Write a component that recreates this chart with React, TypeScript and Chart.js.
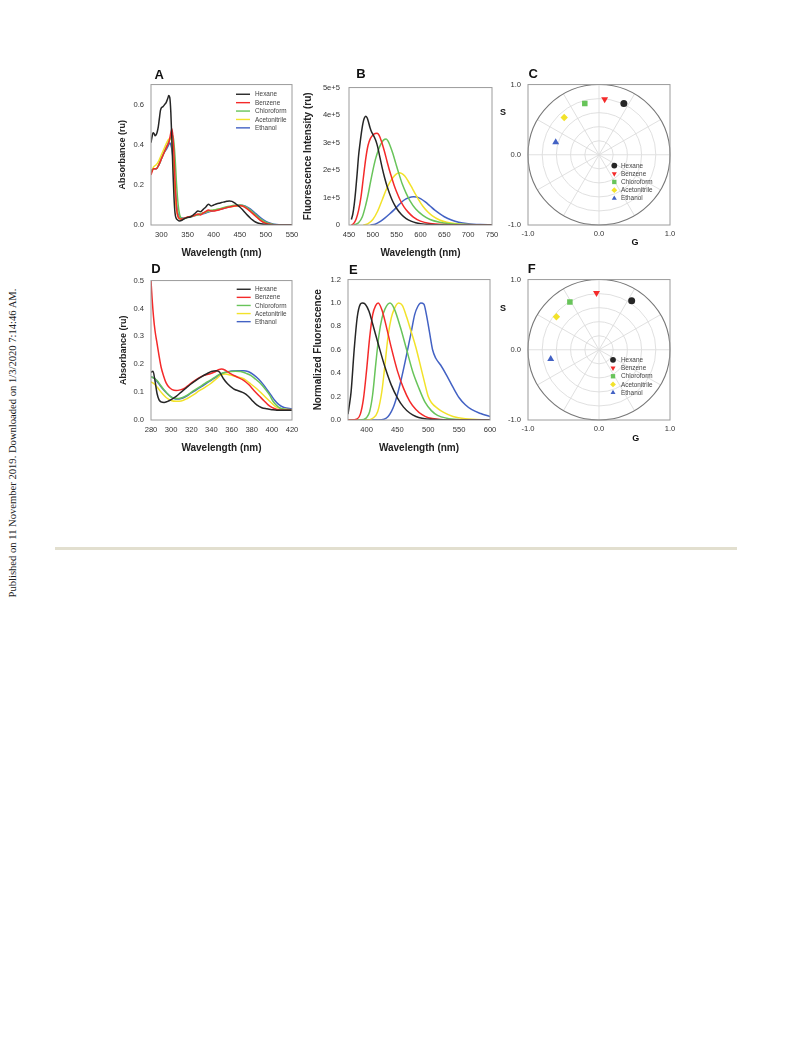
import React, { useEffect, useRef } from "react";
import { Chart, registerables } from "chart.js";
Chart.register(...registerables);

const FONT = "Arial, 'Liberation Sans', Helvetica, sans-serif";
type Pt = [number, number];

const SOLVENTS = ["Hexane", "Benzene", "Chloroform", "Acetonitrile", "Ethanol"];
const COLORS = ["#262626", "#f42a2a", "#68c45a", "#f2e22a", "#4362c4"];
const MARKERS = ["circle", "triDown", "rect", "rectRot", "triUp"];

// ---------- Panel A : absorbance ----------
const A_X_TICKS = [300, 350, 400, 450, 500, 550];
const A_Y_TICKS = [0, 0.2, 0.4, 0.6];
const A_HEXANE: Pt[] = [[280,0.41],[282,0.44],[284,0.46],[286,0.455],[288,0.445],[290,0.45],[292,0.465],[294,0.49],[296,0.53],[298,0.57],[300,0.585],[303,0.59],[306,0.6],[309,0.61],[312,0.63],[314,0.645],[316,0.635],[318,0.56],[320,0.42],[322,0.27],[324,0.14],[326,0.06],[328,0.035],[331,0.025],[335,0.02],[340,0.025],[345,0.033],[350,0.038],[355,0.04],[360,0.048],[365,0.06],[370,0.07],[375,0.066],[380,0.078],[385,0.09],[390,0.104],[395,0.095],[400,0.1],[405,0.105],[410,0.108],[415,0.112],[420,0.115],[425,0.118],[430,0.12],[435,0.118],[440,0.11],[445,0.1],[450,0.09],[455,0.077],[460,0.062],[465,0.048],[470,0.035],[475,0.024],[480,0.015],[490,0.006],[500,0.002],[510,0],[550,0]];
const A_BENZENE: Pt[] = [[280,0.25],[285,0.28],[290,0.28],[295,0.3],[300,0.33],[305,0.36],[310,0.39],[315,0.42],[318,0.46],[320,0.48],[322,0.44],[324,0.35],[326,0.22],[328,0.12],[330,0.06],[333,0.035],[336,0.03],[340,0.03],[345,0.035],[350,0.04],[355,0.042],[360,0.045],[365,0.05],[370,0.055],[375,0.05],[380,0.06],[385,0.068],[390,0.075],[395,0.07],[400,0.07],[405,0.072],[410,0.075],[420,0.083],[430,0.09],[440,0.095],[450,0.097],[455,0.095],[460,0.088],[470,0.068],[480,0.045],[490,0.022],[500,0.008],[510,0.002],[520,0],[550,0]];
const A_CHLOROFORM: Pt[] = [[280,0.26],[285,0.28],[290,0.28],[295,0.3],[300,0.33],[305,0.36],[310,0.39],[315,0.42],[320,0.45],[323,0.43],[326,0.34],[329,0.2],[332,0.1],[335,0.05],[338,0.035],[342,0.03],[350,0.038],[360,0.045],[370,0.052],[380,0.06],[390,0.07],[400,0.075],[410,0.08],[420,0.087],[430,0.093],[440,0.098],[450,0.1],[460,0.093],[470,0.075],[480,0.052],[490,0.03],[500,0.014],[510,0.005],[520,0.001],[550,0]];
const A_ACETONITRILE: Pt[] = [[280,0.26],[285,0.29],[290,0.3],[295,0.32],[300,0.35],[305,0.38],[310,0.41],[315,0.43],[318,0.43],[321,0.38],[324,0.25],[327,0.12],[330,0.06],[333,0.035],[337,0.03],[345,0.035],[355,0.04],[365,0.048],[375,0.055],[385,0.065],[395,0.072],[405,0.077],[415,0.082],[425,0.088],[435,0.092],[445,0.095],[452,0.096],[460,0.09],[470,0.07],[480,0.046],[490,0.024],[500,0.01],[510,0.003],[520,0],[550,0]];
const A_ETHANOL: Pt[] = [[280,0.27],[285,0.28],[290,0.28],[295,0.3],[300,0.33],[305,0.36],[310,0.38],[314,0.4],[316,0.41],[318,0.4],[321,0.36],[324,0.27],[327,0.16],[330,0.08],[333,0.045],[337,0.035],[345,0.035],[355,0.04],[365,0.047],[375,0.053],[385,0.06],[395,0.068],[405,0.075],[415,0.08],[425,0.087],[435,0.093],[445,0.097],[452,0.098],[460,0.095],[470,0.08],[480,0.058],[490,0.036],[500,0.018],[510,0.008],[520,0.002],[530,0],[550,0]];

// ---------- Panel B : fluorescence intensity ----------
const B_X_TICKS = [450, 500, 550, 600, 650, 700, 750];
const B_Y_TICKS = [0, 1e5, 2e5, 3e5, 4e5, 5e5];
const B_HEXANE: Pt[] = [[455,0.2e5],[458,0.4e5],[461,0.75e5],[464,1.25e5],[467,1.85e5],[470,2.5e5],[473,2.95e5],[476,3.35e5],[479,3.68e5],[482,3.88e5],[485,3.96e5],[488,3.9e5],[491,3.74e5],[494,3.55e5],[497,3.4e5],[500,3.3e5],[503,3.2e5],[506,3.08e5],[510,2.85e5],[515,2.45e5],[520,2.05e5],[525,1.7e5],[530,1.4e5],[535,1.15e5],[540,0.93e5],[545,0.75e5],[550,0.6e5],[560,0.38e5],[570,0.23e5],[580,0.14e5],[590,0.085e5],[600,0.05e5],[620,0.018e5],[650,0.004e5],[700,0],[750,0]];
const B_BENZENE: Pt[] = [[455,0],[460,0.06e5],[465,0.22e5],[470,0.52e5],[475,1.0e5],[480,1.7e5],[485,2.4e5],[490,2.9e5],[495,3.15e5],[500,3.27e5],[505,3.33e5],[509,3.34e5],[513,3.27e5],[518,3.05e5],[524,2.7e5],[530,2.3e5],[535,1.98e5],[540,1.7e5],[545,1.43e5],[550,1.2e5],[557,0.92e5],[565,0.67e5],[575,0.45e5],[585,0.29e5],[600,0.14e5],[620,0.055e5],[650,0.015e5],[700,0.002e5],[750,0]];
const B_CHLOROFORM: Pt[] = [[460,0],[470,0.08e5],[478,0.3e5],[485,0.72e5],[490,1.1e5],[495,1.55e5],[500,1.98e5],[505,2.36e5],[510,2.65e5],[515,2.88e5],[520,3.04e5],[525,3.12e5],[528,3.13e5],[532,3.05e5],[537,2.85e5],[542,2.6e5],[548,2.25e5],[555,1.85e5],[562,1.48e5],[570,1.15e5],[578,0.88e5],[590,0.58e5],[605,0.35e5],[620,0.2e5],[640,0.1e5],[660,0.05e5],[690,0.015e5],[720,0.004e5],[750,0]];
const B_ACETONITRILE: Pt[] = [[480,0],[490,0.05e5],[500,0.2e5],[510,0.5e5],[520,0.93e5],[528,1.28e5],[535,1.53e5],[542,1.72e5],[549,1.85e5],[555,1.9e5],[561,1.87e5],[567,1.78e5],[574,1.6e5],[580,1.42e5],[587,1.2e5],[595,0.95e5],[605,0.68e5],[615,0.48e5],[625,0.33e5],[640,0.18e5],[655,0.1e5],[675,0.045e5],[700,0.015e5],[750,0]];
const B_ETHANOL: Pt[] = [[495,0],[505,0.03e5],[515,0.12e5],[525,0.25e5],[535,0.4e5],[545,0.56e5],[555,0.74e5],[565,0.9e5],[575,0.99e5],[585,1.03e5],[592,1.02e5],[600,0.96e5],[610,0.84e5],[620,0.69e5],[630,0.54e5],[640,0.41e5],[650,0.3e5],[665,0.18e5],[680,0.1e5],[700,0.045e5],[725,0.015e5],[750,0.005e5]];

// ---------- Panel C : phasor (G, S) ----------
const C_G = [0.35, 0.08, -0.2, -0.49, -0.61];
const C_S = [0.73, 0.79, 0.73, 0.53, 0.18];

// ---------- Panel D : absorbance ----------
const D_X_TICKS = [280, 300, 320, 340, 360, 380, 400, 420];
const D_Y_TICKS = [0, 0.1, 0.2, 0.3, 0.4, 0.5];
const D_HEXANE: Pt[] = [[280,0.171],[282,0.175],[284,0.14],[286,0.095],[288,0.072],[290,0.065],[293,0.063],[296,0.066],[300,0.073],[305,0.085],[310,0.1],[315,0.115],[320,0.13],[325,0.143],[330,0.155],[335,0.165],[340,0.174],[345,0.177],[348,0.172],[352,0.148],[356,0.13],[362,0.112],[368,0.103],[372,0.097],[376,0.087],[380,0.072],[385,0.054],[390,0.044],[395,0.04],[400,0.037],[405,0.035],[410,0.035],[420,0.035]];
const D_BENZENE: Pt[] = [[280,0.5],[281,0.44],[282.5,0.37],[284,0.32],[286,0.275],[288,0.23],[290,0.19],[292.5,0.158],[295,0.133],[298,0.117],[301,0.109],[305,0.106],[309,0.108],[313,0.113],[318,0.127],[323,0.14],[328,0.152],[333,0.16],[338,0.165],[343,0.172],[347,0.18],[350,0.183],[354,0.178],[359,0.166],[365,0.155],[372,0.142],[377,0.127],[382,0.107],[387,0.088],[392,0.07],[396,0.055],[400,0.045],[405,0.038],[412,0.035],[420,0.035]];
const D_CHLOROFORM: Pt[] = [[280,0.155],[283,0.15],[286,0.142],[290,0.122],[293,0.108],[296,0.095],[300,0.082],[305,0.077],[310,0.079],[316,0.089],[322,0.104],[328,0.118],[334,0.132],[339,0.143],[344,0.155],[349,0.165],[354,0.171],[359,0.174],[364,0.175],[369,0.174],[374,0.168],[379,0.16],[384,0.146],[389,0.13],[394,0.108],[398,0.088],[401,0.068],[404,0.055],[408,0.043],[413,0.038],[420,0.036]];
const D_ACETONITRILE: Pt[] = [[280,0.137],[283,0.13],[286,0.118],[290,0.1],[293,0.088],[296,0.078],[300,0.07],[305,0.067],[310,0.068],[316,0.077],[322,0.09],[328,0.105],[334,0.118],[339,0.13],[345,0.148],[350,0.163],[354,0.165],[359,0.161],[365,0.155],[372,0.148],[378,0.132],[385,0.112],[390,0.095],[395,0.077],[400,0.06],[404,0.047],[410,0.04],[420,0.037]];
const D_ETHANOL: Pt[] = [[280,0.155],[283,0.15],[286,0.138],[289,0.124],[292,0.11],[296,0.095],[300,0.083],[303,0.077],[306,0.075],[310,0.077],[315,0.085],[320,0.097],[325,0.108],[330,0.12],[335,0.131],[340,0.143],[345,0.155],[350,0.166],[355,0.172],[360,0.176],[366,0.177],[372,0.177],[377,0.173],[382,0.162],[387,0.146],[392,0.125],[396,0.105],[399,0.09],[403,0.07],[407,0.055],[412,0.045],[420,0.04]];

// ---------- Panel E : normalized fluorescence ----------
const E_X_TICKS = [400, 450, 500, 550, 600];
const E_Y_TICKS = [0, 0.2, 0.4, 0.6, 0.8, 1.0, 1.2];
const E_HEXANE: Pt[] = [[370,0.05],[372,0.12],[375,0.24],[380,0.6],[385,0.88],[390,0.99],[393,1.0],[398,0.99],[404,0.93],[410,0.82],[420,0.63],[430,0.45],[440,0.3],[450,0.19],[460,0.11],[470,0.06],[480,0.03],[490,0.015],[510,0.004],[530,0],[600,0]];
const E_BENZENE: Pt[] = [[370,0],[375,0],[385,0.01],[390,0.05],[395,0.18],[400,0.42],[405,0.7],[410,0.9],[415,0.98],[419,1.0],[425,0.94],[432,0.8],[440,0.62],[450,0.42],[460,0.27],[470,0.16],[480,0.09],[490,0.045],[500,0.02],[520,0.005],[540,0],[600,0]];
const E_CHLOROFORM: Pt[] = [[370,0],[390,0],[400,0.02],[405,0.07],[410,0.22],[415,0.48],[420,0.72],[425,0.87],[430,0.95],[438,1.0],[445,0.95],[455,0.79],[465,0.6],[475,0.41],[485,0.27],[495,0.15],[505,0.08],[515,0.04],[530,0.015],[550,0.003],[570,0],[600,0]];
const E_ACETONITRILE: Pt[] = [[370,0],[400,0],[410,0.015],[418,0.07],[425,0.25],[430,0.48],[435,0.72],[440,0.87],[445,0.95],[452,1.0],[458,0.98],[465,0.88],[472,0.76],[480,0.62],[488,0.45],[495,0.3],[500,0.2],[505,0.15],[515,0.1],[525,0.065],[540,0.03],[560,0.01],[600,0]];
const E_ETHANOL: Pt[] = [[370,0],[420,0],[435,0.03],[445,0.13],[455,0.32],[465,0.56],[472,0.74],[478,0.9],[483,0.97],[488,1.0],[493,0.99],[497,0.9],[502,0.75],[507,0.6],[512,0.53],[520,0.47],[530,0.38],[540,0.28],[550,0.19],[560,0.13],[570,0.09],[585,0.055],[600,0.03]];

// ---------- Panel F : phasor (G, S) ----------
const F_G = [0.46, -0.035, -0.41, -0.6, -0.68];
const F_S = [0.7, 0.81, 0.68, 0.47, -0.13];

const POLAR_TICKS = [-1, 0, 1];
const POLAR_RINGS = [0.2, 0.4, 0.6, 0.8];
const POLAR_SPOKES = [0, 30, 60, 90, 120, 150, 180, 210, 240, 270, 300, 330];

// ---------- plugins ----------
const framePlugin = {
  id: "frame",
  afterDraw(chart: any) {
    const { ctx, chartArea: a } = chart;
    ctx.save();
    ctx.strokeStyle = "#9c9c9c";
    ctx.lineWidth = 1;
    ctx.strokeRect(a.left, a.top, a.right - a.left, a.bottom - a.top);
    ctx.restore();
  },
};

function drawMarker(ctx: CanvasRenderingContext2D, style: string, x: number, y: number, r: number, color: string) {
  ctx.fillStyle = color;
  ctx.beginPath();
  if (style === "circle") ctx.arc(x, y, r, 0, Math.PI * 2);
  else if (style === "rect") ctx.rect(x - r * 0.75, y - r * 0.75, r * 1.5, r * 1.5);
  else if (style === "rectRot") {
    ctx.moveTo(x, y - r); ctx.lineTo(x + r, y); ctx.lineTo(x, y + r); ctx.lineTo(x - r, y); ctx.closePath();
  } else {
    const s = style === "triUp" ? 1 : -1;
    ctx.moveTo(x, y - s * r);
    ctx.lineTo(x + r * 0.87, y + s * r * 0.5);
    ctx.lineTo(x - r * 0.87, y + s * r * 0.5);
    ctx.closePath();
  }
  ctx.fill();
}

const lineLegendPlugin = {
  id: "lineLegend",
  afterDraw(chart: any, _args: any, opts: any) {
    const { ctx, chartArea: a } = chart;
    ctx.save();
    ctx.font = `${opts.fontSize}px ${FONT}`;
    ctx.textBaseline = "middle";
    ctx.textAlign = "left";
    chart.data.datasets.forEach((ds: any, i: number) => {
      const y = a.top + opts.dy + i * opts.spacing;
      const x0 = a.left + opts.dx;
      ctx.strokeStyle = ds.borderColor;
      ctx.lineWidth = 1.4;
      ctx.beginPath();
      ctx.moveTo(x0, y);
      ctx.lineTo(x0 + opts.lineLen, y);
      ctx.stroke();
      ctx.fillStyle = "#444";
      ctx.fillText(ds.label, x0 + opts.textDx, y + 0.3);
    });
    ctx.restore();
  },
};

const markerLegendPlugin = {
  id: "markerLegend",
  afterDraw(chart: any, _args: any, opts: any) {
    const { ctx, chartArea: a } = chart;
    ctx.save();
    ctx.font = `${opts.fontSize}px ${FONT}`;
    ctx.textBaseline = "middle";
    ctx.textAlign = "left";
    chart.data.datasets.forEach((ds: any, i: number) => {
      const y = a.top + opts.dy + i * opts.spacing;
      const x0 = a.left + opts.dx;
      drawMarker(ctx, MARKERS[i], x0, y, 2.9, ds.backgroundColor);
      ctx.fillStyle = "#444";
      ctx.fillText(ds.label, x0 + opts.textDx, y + 0.3);
    });
    ctx.restore();
  },
};

const polarGridPlugin = {
  id: "polarGrid",
  beforeDatasetsDraw(chart: any) {
    const { ctx, scales } = chart;
    const xs = scales.x, ys = scales.y;
    const cx = xs.getPixelForValue(0), cy = ys.getPixelForValue(0);
    const rx = xs.getPixelForValue(1) - cx, ry = cy - ys.getPixelForValue(1);
    ctx.save();
    ctx.strokeStyle = "#dcdcdc";
    ctx.lineWidth = 0.9;
    POLAR_RINGS.forEach((r) => {
      ctx.beginPath();
      ctx.ellipse(cx, cy, rx * r, ry * r, 0, 0, Math.PI * 2);
      ctx.stroke();
    });
    POLAR_SPOKES.forEach((deg) => {
      const t = (deg * Math.PI) / 180;
      ctx.beginPath();
      ctx.moveTo(cx, cy);
      ctx.lineTo(cx + rx * Math.cos(t), cy - ry * Math.sin(t));
      ctx.stroke();
    });
    ctx.strokeStyle = "#777";
    ctx.lineWidth = 1.1;
    ctx.beginPath();
    ctx.ellipse(cx, cy, rx, ry, 0, 0, Math.PI * 2);
    ctx.stroke();
    ctx.restore();
  },
};

// ---------- config builders ----------
const tickFont = { size: 7.6, family: FONT };

function axisBase(ticksArr: number[], min: number, max: number, fmt: (v: number) => string, pad: number) {
  return {
    type: "linear",
    min,
    max,
    afterBuildTicks: (s: any) => { s.ticks = ticksArr.map((v) => ({ value: v })); },
    ticks: { font: tickFont, color: "#333", padding: pad, autoSkip: false, maxRotation: 0, callback: (v: any) => fmt(Number(v)) },
    grid: { display: false, drawTicks: false },
    border: { display: false },
  };
}

function lineConfig(o: any) {
  return {
    type: "line",
    data: {
      datasets: o.series.map((s: Pt[], i: number) => ({
        label: SOLVENTS[i],
        data: s.map(([x, y]) => ({ x, y })),
        borderColor: COLORS[i],
        backgroundColor: COLORS[i],
        borderWidth: 1.5,
        pointRadius: 0,
        tension: 0.4,
        cubicInterpolationMode: "monotone",
        fill: false,
      })),
    },
    options: {
      responsive: true,
      maintainAspectRatio: false,
      animation: false,
      events: [],
      layout: { padding: { top: o.g.padTop, right: o.g.padRight, left: 0, bottom: 0 } },
      plugins: { legend: { display: false }, tooltip: { enabled: false }, lineLegend: o.legend || false },
      scales: {
        x: {
          ...axisBase(o.xTicks, o.xMin, o.xMax, (v) => String(v), 5.5),
          title: { display: true, text: "Wavelength (nm)", font: { size: 10, weight: "bold", family: FONT }, color: "#222", padding: 0 },
          afterFit: (s: any) => { s.height = o.g.xAxisH; },
        },
        y: {
          ...axisBase(o.yTicks, o.yMin, o.yMax, o.yFmt, o.yPad),
          title: { display: true, text: o.yTitle, font: { size: o.yTitleSize, weight: "bold", family: FONT }, color: "#222", padding: 0 },
          afterFit: (s: any) => { s.width = o.g.yAxisW; },
        },
      },
    },
    plugins: [framePlugin, lineLegendPlugin],
  };
}

function polarConfig(o: any) {
  return {
    type: "scatter",
    data: {
      datasets: o.G.map((g: number, i: number) => ({
        label: SOLVENTS[i],
        data: [{ x: g, y: o.S[i] }],
        backgroundColor: COLORS[i],
        borderColor: COLORS[i],
        borderWidth: 0,
        pointStyle: MARKERS[i] === "circle" ? "circle" : MARKERS[i] === "rect" ? "rect" : MARKERS[i] === "rectRot" ? "rectRot" : "triangle",
        rotation: MARKERS[i] === "triDown" ? 180 : 0,
        pointRadius: MARKERS[i] === "circle" ? 3.5 : MARKERS[i] === "rect" ? 3.9 : MARKERS[i] === "rectRot" ? 3.7 : 4,
      })),
    },
    options: {
      responsive: true,
      maintainAspectRatio: false,
      animation: false,
      events: [],
      layout: { padding: { top: o.g.padTop, right: o.g.padRight, left: 0, bottom: 0 } },
      plugins: { legend: { display: false }, tooltip: { enabled: false }, markerLegend: o.legend },
      scales: {
        x: { ...axisBase(POLAR_TICKS, -1, 1, (v) => v.toFixed(1), 4), afterFit: (s: any) => { s.height = o.g.xAxisH; } },
        y: { ...axisBase(POLAR_TICKS, -1, 1, (v) => v.toFixed(1), 7), afterFit: (s: any) => { s.width = o.g.yAxisW; } },
      },
    },
    plugins: [polarGridPlugin, framePlugin, markerLegendPlugin],
  };
}

// ---------- geometry helpers ----------
type Plot = { l: number; t: number; r: number; b: number };
function lineGeom(p: Plot, yTitleX: number, yLh: number, xTitleY: number, xLh: number) {
  const left = Math.round(yTitleX - yLh / 2);
  const top = p.t - 10;
  const bottom = Math.round(xTitleY + xLh / 2);
  const padRight = 12;
  return { left, top, width: p.r - left + padRight, height: bottom - top, yAxisW: p.l - left, xAxisH: bottom - p.b, padTop: 10, padRight };
}
function polarGeom(p: Plot) {
  const left = p.l - 32;
  const top = p.t - 10;
  const bottom = p.b + 16;
  const padRight = 12;
  return { left, top, width: p.r - left + padRight, height: bottom - top, yAxisW: 32, xAxisH: 16, padTop: 10, padRight };
}

function ChartBox({ g, config }: { g: any; config: any }) {
  const ref = useRef<HTMLCanvasElement>(null);
  useEffect(() => {
    const chart = new Chart(ref.current as HTMLCanvasElement, config as any);
    return () => chart.destroy();
  }, []);
  return (
    <div style={{ position: "absolute", left: g.left, top: g.top, width: g.width, height: g.height }}>
      <canvas ref={ref} />
    </div>
  );
}

function Label({ x, y, text, size, bold = true }: { x: number; y: number; text: string; size: number; bold?: boolean }) {
  return (
    <div style={{ position: "absolute", left: x, top: y, transform: "translate(-50%, -50%)", fontFamily: FONT, fontSize: size, fontWeight: bold ? "bold" : "normal", color: "#111", whiteSpace: "nowrap", lineHeight: 1 }}>
      {text}
    </div>
  );
}

const gA = lineGeom({ l: 151, t: 83, r: 292, b: 225 }, 122.5, 10.8, 253, 12);
const gB = lineGeom({ l: 349, t: 84, r: 492, b: 225 }, 308.3, 12, 253, 12);
const gC = polarGeom({ l: 528, t: 83, r: 670, b: 225 });
const gD = lineGeom({ l: 151, t: 279, r: 292, b: 420 }, 123.3, 10.8, 447.7, 12);
const gE = lineGeom({ l: 348, t: 278, r: 490, b: 420 }, 318.3, 12, 447.7, 12);
const gF = polarGeom({ l: 528, t: 278, r: 670, b: 420 });

const fmt1 = (v: number) => v.toFixed(1);
const fmtE = (v: number) => (v === 0 ? "0" : `${Math.round(v / 1e5)}e+5`);

export default function App() {
  const cfgA = () => lineConfig({ g: gA, series: [A_HEXANE, A_BENZENE, A_CHLOROFORM, A_ACETONITRILE, A_ETHANOL], xMin: 280, xMax: 550, yMin: 0, yMax: 0.7, xTicks: A_X_TICKS, yTicks: A_Y_TICKS, yFmt: fmt1, yPad: 7, yTitle: "Absorbance (ru)", yTitleSize: 9, legend: { dx: 85, dy: 9.7, spacing: 8.4, lineLen: 14, textDx: 19, fontSize: 6.4 } });
  const cfgB = () => lineConfig({ g: gB, series: [B_HEXANE, B_BENZENE, B_CHLOROFORM, B_ACETONITRILE, B_ETHANOL], xMin: 450, xMax: 750, yMin: 0, yMax: 5e5, xTicks: B_X_TICKS, yTicks: B_Y_TICKS, yFmt: fmtE, yPad: 9, yTitle: "Fluorescence Intensity (ru)", yTitleSize: 10, legend: false });
  const cfgC = () => polarConfig({ g: gC, G: C_G, S: C_S, legend: { dx: 86.3, dy: 81, spacing: 8.2, textDx: 6.7, fontSize: 6.4 } });
  const cfgD = () => lineConfig({ g: gD, series: [D_HEXANE, D_BENZENE, D_CHLOROFORM, D_ACETONITRILE, D_ETHANOL], xMin: 280, xMax: 420, yMin: 0, yMax: 0.5, xTicks: D_X_TICKS, yTicks: D_Y_TICKS, yFmt: fmt1, yPad: 7, yTitle: "Absorbance (ru)", yTitleSize: 9, legend: { dx: 85.7, dy: 8.7, spacing: 8.1, lineLen: 14, textDx: 18.3, fontSize: 6.4 } });
  const cfgE = () => lineConfig({ g: gE, series: [E_HEXANE, E_BENZENE, E_CHLOROFORM, E_ACETONITRILE, E_ETHANOL], xMin: 370, xMax: 600, yMin: 0, yMax: 1.2, xTicks: E_X_TICKS, yTicks: E_Y_TICKS, yFmt: fmt1, yPad: 7, yTitle: "Normalized Fluorescence", yTitleSize: 10, legend: false });
  const cfgF = () => polarConfig({ g: gF, G: F_G, S: F_S, legend: { dx: 85, dy: 80.3, spacing: 8.2, textDx: 8, fontSize: 6.4 } });

  return (
    <div style={{ position: "absolute", left: 0, top: 0, width: 793, height: 1039, background: "#fff", overflow: "hidden" }}>
      <ChartBox g={gA} config={cfgA()} />
      <ChartBox g={gB} config={cfgB()} />
      <ChartBox g={gC} config={cfgC()} />
      <ChartBox g={gD} config={cfgD()} />
      <ChartBox g={gE} config={cfgE()} />
      <ChartBox g={gF} config={cfgF()} />

      <Label x={159.3} y={74} text="A" size={13} />
      <Label x={361} y={73.3} text="B" size={13} />
      <Label x={533.3} y={72.7} text="C" size={13} />
      <Label x={156} y={267.5} text="D" size={13} />
      <Label x={353.3} y={269} text="E" size={13} />
      <Label x={531.7} y={268} text="F" size={13} />

      <Label x={503} y={112} text="S" size={9} />
      <Label x={635} y={241.7} text="G" size={9} />
      <Label x={503} y={307.7} text="S" size={9} />
      <Label x={635.7} y={437.7} text="G" size={9} />

      <div style={{ position: "absolute", left: 12.5, top: 443, transform: "translate(-50%, -50%) rotate(-90deg)", fontFamily: "'Times New Roman', 'Liberation Serif', serif", fontSize: 10.6, color: "#222", whiteSpace: "nowrap", lineHeight: 1 }}>
        Published on 11 November 2019. Downloaded on 1/3/2020 7:14:46 AM.
      </div>

      <div style={{ position: "absolute", left: 55, top: 547, width: 682, height: 3, background: "#e2dfcf" }} />
    </div>
  );
}
